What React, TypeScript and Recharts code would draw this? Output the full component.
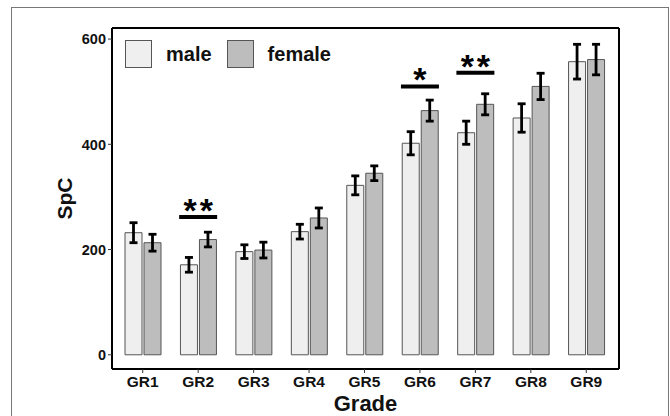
import React from 'react';
import {
  ComposedChart,
  Bar,
  ErrorBar,
  Scatter,
  XAxis,
  YAxis,
  Legend,
  ReferenceLine,
} from 'recharts';

const grades = ['GR1', 'GR2', 'GR3', 'GR4', 'GR5', 'GR6', 'GR7', 'GR8', 'GR9'];
const maleValues = [232, 171, 196, 234, 322, 402, 422, 450, 557];
const femaleValues = [213, 219, 199, 260, 345, 464, 476, 510, 561];
const maleErrors = [19, 14, 13, 14, 18, 22, 22, 27, 33];
const femaleErrors = [16, 14, 15, 19, 14, 20, 20, 25, 29];
const sigLevels: (number | null)[] = [null, 262, null, null, null, 510, 536, null, null];
const sigLabels: (string | null)[] = [null, '**', null, null, null, '*', '**', null, null];
const yTicks = [0, 200, 400, 600];
const seriesOrder = ['male', 'female'];

const data = grades.map((g, i) => ({
  grade: g,
  male: maleValues[i],
  female: femaleValues[i],
  maleErr: maleErrors[i],
  femaleErr: femaleErrors[i],
  sig: sigLevels[i],
  sigLabel: sigLabels[i],
}));

const FONT = '"Liberation Sans", Arial, sans-serif';
const MALE_FILL = '#efefef';
const FEMALE_FILL = '#bdbdbd';
const BAR_STROKE = '#555555';
const Y_MAX = 621;

const SigShape = (props: any) => {
  const { cx, cy, payload } = props;
  if (!payload || payload.sigLabel == null || cy == null || isNaN(cy)) return <g />;
  return (
    <g>
      <line x1={cx - 19} x2={cx + 19} y1={cy} y2={cy} stroke="#000" strokeWidth={4} />
      <text
        x={cx + 1.5}
        y={cy + 5}
        textAnchor="middle"
        fontFamily={FONT}
        fontWeight="bold"
        fontSize={34}
        letterSpacing={3}
        fill="#000"
      >
        {payload.sigLabel}
      </text>
    </g>
  );
};

const XTick = (props: any) => {
  const { x, y, payload } = props;
  return (
    <text x={x} y={y} dy="0.71em" textAnchor="middle" fontFamily={FONT} fontWeight="bold" fontSize={15.5} fill="#111">
      {payload.value}
    </text>
  );
};

const YTick = (props: any) => {
  const { x, y, payload } = props;
  return (
    <text x={x} y={y} dy="0.36em" textAnchor="end" fontFamily={FONT} fontWeight="bold" fontSize={14.5} fill="#111">
      {payload.value}
    </text>
  );
};

const LegendContent = (props: any) => {
  const items = (props.payload || [])
    .filter((p: any) => p.type !== 'none')
    .slice()
    .sort((a: any, b: any) => seriesOrder.indexOf(a.value) - seriesOrder.indexOf(b.value));
  return (
    <div style={{ display: 'flex', alignItems: 'center', fontFamily: FONT, fontWeight: 'bold', fontSize: 20, color: '#111' }}>
      {items.map((it: any, i: number) => (
        <div key={i} style={{ display: 'flex', alignItems: 'center', marginRight: 15 }}>
          <div
            style={{
              width: 25,
              height: 26,
              background: it.color,
              border: `1px solid ${BAR_STROKE}`,
              marginRight: 14,
            }}
          />
          <span>{it.value}</span>
        </div>
      ))}
    </div>
  );
};

export default function App() {
  return (
    <div style={{ position: 'absolute', left: 0, top: 0, width: 670, height: 416, background: '#fff', overflow: 'hidden' }}>
      <div
        style={{
          position: 'absolute',
          left: 11,
          top: 7,
          width: 656,
          height: 420,
          borderLeft: '1px solid #777',
          borderTop: '1px solid #777',
          borderRight: '1px solid #777',
        }}
      />
      <ComposedChart
        width={670}
        height={416}
        data={data}
        margin={{ top: 28, right: 50, bottom: 0, left: 17 }}
        barSize={17}
        barGap={2}
        style={{ position: 'absolute', left: 0, top: 0 }}
      >
        <XAxis
          dataKey="grade"
          height={47}
          padding={{ left: 3, right: 5 }}
          axisLine={{ stroke: '#000', strokeWidth: 2 }}
          tickLine={{ stroke: '#333' }}
          tickSize={4}
          tickMargin={3}
          tick={<XTick />}
          interval={0}
          label={{
            value: 'Grade',
            position: 'insideBottom',
            offset: 5,
            style: { fill: '#111', fontSize: 22, fontWeight: 'bold', fontFamily: FONT },
          }}
        />
        <YAxis
          width={95}
          domain={[-27, Y_MAX]}
          ticks={yTicks}
          type="number"
          axisLine={{ stroke: '#000', strokeWidth: 2 }}
          tickLine={{ stroke: '#333' }}
          tickSize={4}
          tickMargin={2}
          tick={<YTick />}
          label={{
            value: 'SpC',
            angle: -90,
            position: 'center',
            style: { fill: '#111', fontSize: 21, fontWeight: 'bold', fontFamily: FONT },
          }}
        />
        <YAxis
          yAxisId="right"
          orientation="right"
          width={1}
          domain={[0, 1]}
          tick={false}
          tickLine={false}
          axisLine={{ stroke: '#000', strokeWidth: 2 }}
        />
        <ReferenceLine y={Y_MAX} stroke="#000" strokeWidth={2} ifOverflow="visible" />
        <Legend
          layout="horizontal"
          verticalAlign="middle"
          align="center"
          content={LegendContent}
          wrapperStyle={{ left: 125, top: 40, width: 'auto', height: 'auto' }}
        />
        <Bar dataKey="male" name="male" fill={MALE_FILL} stroke={BAR_STROKE} strokeWidth={1} isAnimationActive={false}>
          <ErrorBar dataKey="maleErr" width={4} stroke="#000" strokeWidth={2.8} isAnimationActive={false} />
        </Bar>
        <Bar dataKey="female" name="female" fill={FEMALE_FILL} stroke={BAR_STROKE} strokeWidth={1} isAnimationActive={false}>
          <ErrorBar dataKey="femaleErr" width={4} stroke="#000" strokeWidth={2.8} isAnimationActive={false} />
        </Bar>
        <Scatter dataKey="sig" legendType="none" shape={SigShape} isAnimationActive={false} />
      </ComposedChart>
    </div>
  );
}
